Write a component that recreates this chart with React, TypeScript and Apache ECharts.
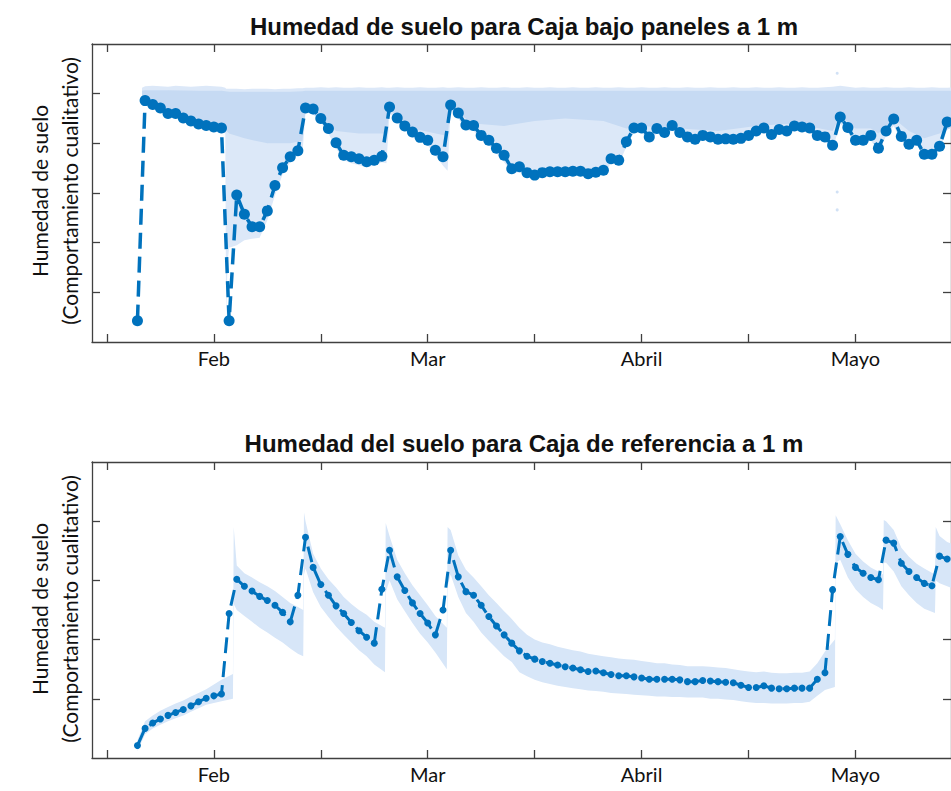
import React, { useEffect, useRef } from "react";
import * as echarts from "echarts";

// ---------- DATA ----------
// daily index (day 0 = first tick, day 14 = "Feb", 42 = "Mar", 70 = "Abril", 98 = "Mayo")
const days = [
  4, 5, 6, 7, 8, 9, 10, 11, 12, 13, 14, 15, 16, 17, 18, 19, 20, 21, 22, 23, 24, 25, 26, 27, 28, 29,
  30, 31, 32, 33, 34, 35, 36, 37, 38, 39, 40, 41, 42, 43, 44, 45, 46, 47, 48, 49, 50, 51, 52, 53, 54,
  55, 56, 57, 58, 59, 60, 61, 62, 63, 64, 65, 66, 67, 68, 69, 70, 71, 72, 73, 74, 75, 76, 77, 78, 79,
  80, 81, 82, 83, 84, 85, 86, 87, 88, 89, 90, 91, 92, 93, 94, 95, 96, 97, 98, 99, 100, 101, 102, 103,
  104, 105, 106, 107, 108, 109, 110,
];

// daily values, "Caja bajo paneles"
const panelValues = [
  0.43, 4.86, 4.78, 4.71, 4.6, 4.6, 4.51, 4.45, 4.39, 4.36, 4.33, 4.31, 0.43, 2.96, 2.57, 2.32, 2.32,
  2.64, 3.15, 3.51, 3.73, 3.85, 4.71, 4.69, 4.5, 4.3, 4.01, 3.76, 3.73, 3.69, 3.63, 3.66, 3.74, 4.73,
  4.51, 4.35, 4.23, 4.12, 4.06, 3.86, 3.73, 4.77, 4.61, 4.37, 4.36, 4.16, 4.06, 3.9, 3.76, 3.49, 3.53,
  3.41, 3.36, 3.41, 3.43, 3.43, 3.43, 3.44, 3.44, 3.39, 3.42, 3.46, 3.69, 3.66, 4.03, 4.31, 4.31, 4.13,
  4.3, 4.22, 4.36, 4.22, 4.13, 4.08, 4.16, 4.13, 4.08, 4.09, 4.08, 4.1, 4.16, 4.25, 4.31, 4.18, 4.28,
  4.25, 4.35, 4.33, 4.31, 4.16, 4.13, 3.96, 4.53, 4.32, 4.06, 4.06, 4.16, 3.9, 4.25, 4.49, 4.14, 3.98,
  4.06, 3.78, 3.78, 3.94, 4.43,
];

// daily values, "Caja de referencia"
const referenceValues = [
  0.21, 0.5, 0.59, 0.66, 0.72, 0.77, 0.82, 0.88, 0.95, 1.01, 1.05, 1.08, 2.44, 3.02, 2.9, 2.82, 2.73,
  2.66, 2.58, 2.46, 2.3, 2.75, 3.73, 3.22, 2.93, 2.75, 2.57, 2.44, 2.29, 2.15, 2.04, 1.94, 2.85, 3.51,
  3.06, 2.83, 2.62, 2.44, 2.28, 2.08, 2.5, 3.51, 3.06, 2.81, 2.75, 2.58, 2.39, 2.23, 2.08, 1.94, 1.81,
  1.72, 1.67, 1.63, 1.6, 1.57, 1.54, 1.52, 1.49, 1.46, 1.47, 1.44, 1.41, 1.39, 1.39, 1.37, 1.35, 1.33,
  1.33, 1.33, 1.33, 1.32, 1.29, 1.29, 1.31, 1.3, 1.29, 1.28, 1.27, 1.23, 1.19, 1.19, 1.22, 1.18, 1.17,
  1.17, 1.18, 1.18, 1.18, 1.33, 1.44, 2.84, 3.74, 3.44, 3.22, 3.12, 3.05, 3.01, 3.68, 3.63, 3.29, 3.15,
  3.05, 2.95, 2.91, 3.41, 3.36,
];

// envelope of the raw (high-frequency) readings, "Caja bajo paneles"
const panelBandDays = [
  4.6, 5, 6, 7, 8, 9, 10, 11, 12, 13, 14, 15, 15.5, 15.6, 15.8, 16, 17, 18, 19, 20, 21, 22, 23, 24, 25,
  25.6, 26, 27, 28, 29, 30, 31, 32, 33, 34, 35, 36, 36.6, 37, 38, 39, 40, 41, 42, 43, 44, 44.6, 45, 46,
  47, 48, 49, 50, 51, 52, 53, 54, 55, 56, 57, 58, 59, 60, 61, 62, 63, 64, 65, 66, 67, 68, 69, 70, 71,
  72, 73, 74, 75, 76, 77, 78, 79, 80, 81, 82, 83, 84, 85, 86, 87, 88, 89, 90, 91, 92, 93, 94, 95, 96,
  97, 98, 99, 100, 101, 102, 103, 104, 105, 106, 107, 108, 109, 110, 111,
];
const panelBandLow = [
  4.85, 4.78, 4.72, 4.65, 4.55, 4.53, 4.45, 4.39, 4.33, 4.3, 4.27, 4.25, 4.2, 0.45, 1.6, 1.9, 1.95,
  2.05, 2.08, 2.1, 2.45, 2.95, 3.38, 3.62, 3.76,
  3.8, 4.62, 4.6, 4.42, 4.2, 3.9, 3.66, 3.6, 3.56, 3.52, 3.55, 3.62, 3.6, 4.62, 4.42, 4.26, 4.14,
  4.03, 3.96, 3.76, 3.55, 3.45, 4.66, 4.5,
  4.27, 4.25, 4.06, 3.96, 3.8, 3.62, 3.4, 3.42, 3.34, 3.3, 3.34, 3.36, 3.36, 3.36, 3.37, 3.37, 3.33,
  3.35, 3.38, 3.6, 3.58, 3.93, 4.22, 4.22, 4.05,
  4.2, 4.13, 4.27, 4.13, 4.05, 4.0, 4.07, 4.05, 4.0, 4.01, 4.0, 4.02, 4.08, 4.17, 4.22, 4.1, 4.2,
  4.17, 4.26, 4.25, 4.22, 4.08, 4.04, 3.88, 4.4,
  4.22, 3.98, 3.98, 4.06, 3.82, 4.15, 4.35, 4.05, 3.9, 3.97, 3.7, 3.7, 3.85, 4.3, 4.3,
];
const panelBandHigh = [
  5.12, 5.15, 5.16, 5.15, 5.14, 5.16, 5.15, 5.14, 5.15, 5.16, 5.15, 5.14, 5.12, 5.1, 5.1, 5.1, 5.1,
  5.09, 5.1, 5.1, 5.1, 5.09, 5.1, 5.1, 5.11,
  5.11, 5.12, 5.12, 5.13, 5.12, 5.13, 5.12, 5.12, 5.13, 5.12, 5.12, 5.13, 5.12, 5.12, 5.13, 5.12,
  5.12, 5.13, 5.12, 5.12, 5.13, 5.12, 5.12, 5.13,
  5.12, 5.12, 5.13, 5.12, 5.12, 5.13, 5.12, 5.12, 5.13, 5.12, 5.12, 5.13, 5.12, 5.12, 5.13, 5.12,
  5.12, 5.13, 5.12, 5.12, 5.13, 5.12, 5.12, 5.13, 5.12,
  5.12, 5.13, 5.12, 5.12, 5.13, 5.12, 5.12, 5.13, 5.12, 5.12, 5.13, 5.12, 5.12, 5.13, 5.12, 5.12,
  5.13, 5.12, 5.12, 5.13, 5.12, 5.12, 5.13, 5.14, 5.16,
  5.14, 5.12, 5.13, 5.12, 5.12, 5.13, 5.12, 5.12, 5.13, 5.12, 5.12, 5.13, 5.12, 5.12, 5.13,
];
// dense core of the raw readings, "Caja bajo paneles"
const panelCoreDays = [
  4.6, 5, 8, 12, 15, 15.5, 16, 18, 21, 24, 25.6, 26, 28, 30, 33, 36.6, 37, 40, 44.6, 45, 48, 52, 56,
  60, 65, 67, 68, 70, 75, 80, 85, 90, 95, 96, 98, 100, 101, 103, 105, 107, 109, 111,
];
const panelCoreLow = [
  4.88, 4.8, 4.6, 4.38, 4.3, 4.28, 4.2, 4.1, 4.0, 4.0, 4.05, 4.65, 4.5, 4.25, 4.2, 4.2, 4.68, 4.3,
  4.15, 4.7, 4.4, 4.35, 4.45, 4.5, 4.45, 4.35, 4.3, 4.35, 4.3, 4.25, 4.35, 4.4, 4.25, 4.55, 4.3, 4.3,
  4.2, 4.5, 4.25, 4.1, 4.2, 4.35,
];
const panelCoreHigh = [
  5.06, 5.07, 5.07, 5.06, 5.06, 5.05, 5.04, 5.04, 5.04, 5.04, 5.05, 5.06, 5.06, 5.06, 5.06, 5.06,
  5.06, 5.06, 5.06, 5.06, 5.06, 5.06, 5.06, 5.06, 5.06, 5.06, 5.06, 5.06, 5.06, 5.06, 5.06, 5.06,
  5.06, 5.06, 5.06, 5.06, 5.06, 5.06, 5.06, 5.06, 5.06, 5.06,
];
const panelOutliers: [number, number][] = [
  [95.6, 3.02],
  [95.6, 2.66],
  [95.6, 5.41],
];

// envelope of the raw readings, "Caja de referencia"
const refBandDays = [
  4, 5, 6, 7, 8, 9, 10, 11, 12, 13, 14, 15, 16.5, 16.6, 17, 18, 19, 20, 21, 22, 23, 24, 25, 25.7, 25.8,
  26, 27, 28, 29, 30, 31, 32, 33, 34, 35, 36.4, 36.5, 37, 38, 39, 40, 41, 42, 43, 44.5, 44.6, 45, 46,
  47, 48, 49, 50, 51, 52, 53, 54, 55, 56, 57, 58, 59, 60, 61, 62, 63, 64, 65, 66, 67, 68, 69, 70, 71,
  72, 73, 74, 75, 76, 77, 78, 79, 80, 81, 82, 83, 84, 85, 86, 87, 88, 89, 90, 91, 92, 93, 94, 95.3,
  95.4, 96, 97, 98, 99, 100, 101, 101.6, 101.7, 102, 103, 104, 105, 106, 107, 108.4, 108.5, 109, 110,
  111,
];
const refBandLow = [
  0.12, 0.4, 0.5, 0.56, 0.62, 0.67, 0.72, 0.78, 0.84, 0.9, 0.93, 0.96, 1.0, 2.6, 2.5, 2.4, 2.3, 2.2,
  2.12, 2.03, 1.95, 1.85, 1.76, 1.72, 3.1, 3.2, 2.8, 2.55, 2.38, 2.22, 2.08, 1.95, 1.82, 1.72, 1.58,
  1.45, 2.8, 3.0, 2.68, 2.48, 2.28, 2.1, 1.95, 1.78, 1.5, 2.9, 3.1, 2.72, 2.45, 2.3, 2.12, 1.98, 1.85,
  1.72, 1.62, 1.45, 1.38, 1.32, 1.28, 1.25, 1.22, 1.2, 1.18, 1.16, 1.14, 1.13, 1.12, 1.1, 1.09, 1.08,
  1.07, 1.06, 1.05, 1.04, 1.04, 1.03, 1.03, 1.02, 1.02, 1.02, 1.0, 1.0, 0.99, 0.98, 0.96, 0.94, 0.93,
  0.93, 0.92, 0.92, 0.92, 0.93, 0.93, 0.95, 1.05, 1.15, 1.2, 3.3, 3.35, 3.05, 2.85, 2.72, 2.62, 2.55,
  2.5, 3.3, 3.3, 3.15, 2.9, 2.75, 2.62, 2.52, 2.45, 3.0, 2.95, 2.9, 2.85,
];
const refBandHigh = [
  0.3, 0.62, 0.72, 0.8, 0.86, 0.92, 0.97, 1.04, 1.1, 1.16, 1.24, 1.32, 1.42, 3.9, 3.25, 3.12, 3.05,
  2.97, 2.9, 2.82, 2.72, 2.62, 2.55, 2.5, 4.15, 4.0, 3.45, 3.2, 3.02, 2.88, 2.72, 2.6, 2.5, 2.42, 2.3,
  2.2, 3.97, 3.75, 3.35, 3.12, 2.92, 2.75, 2.58, 2.4, 2.2, 3.9, 3.85, 3.42, 3.18, 3.05, 2.9, 2.75,
  2.62, 2.48, 2.35, 2.2, 2.08, 2.0, 1.95, 1.92, 1.88, 1.85, 1.82, 1.8, 1.76, 1.74, 1.72, 1.7, 1.68,
  1.67, 1.66, 1.64, 1.62, 1.6, 1.6, 1.58, 1.57, 1.55, 1.55, 1.55, 1.54, 1.53, 1.52, 1.5, 1.48, 1.46,
  1.45, 1.46, 1.44, 1.43, 1.43, 1.44, 1.44, 1.46, 1.6, 1.8, 2.0, 4.1, 3.95, 3.68, 3.45, 3.32, 3.22,
  3.15, 3.1, 4.02, 4.0, 3.85, 3.55, 3.4, 3.28, 3.2, 3.1, 3.9, 3.75, 3.65, 3.6,
];

// axis ticks and labels
const tickDays = [0, 14, 28, 42, 56, 70, 84, 98, 112];
const monthDays = [14, 42, 70, 98];
const monthNames = ["Feb", "Mar", "Abril", "Mayo"];
const panelYTicks = [1, 2, 3, 4, 5];
const refYTicks = [1, 2, 3, 4];

const titles = [
  "Humedad de suelo para Caja bajo paneles a 1 m",
  "Humedad del suelo para Caja de referencia a 1 m",
];
const yNameLines = ["Humedad de suelo", "(Comportamiento cualitativo)"];

// ---------- STYLE ----------
const BLUE = "#0072BD";
const CLOUD_DENSE = "#C6DAF3";
const CLOUD_LIGHT = "#DCE8F8";
const REF_BAND = "#D7E6F8";
const AXIS = "#404040";
const LABEL_FONT = "Lato, 'Open Sans', sans-serif";
const TITLE_FONT = "'Liberation Sans', Arial, sans-serif";

const X_MIN = -1.95;
const X_MAX = 110.5;

function band(
  xi: number,
  bd: number[],
  lo: number[],
  hi: number[],
  color: string,
  z: number
) {
  const n = Math.min(bd.length, lo.length, hi.length);
  const data = bd.slice(0, n).map((d, i) => [d, lo[i], hi[i]]);
  return {
    type: "custom",
    xAxisIndex: xi,
    yAxisIndex: xi,
    data,
    silent: true,
    z,
    encode: { x: 0, y: [1, 2] },
    renderItem: (params: any, api: any) => {
      if (params.dataIndex !== 0) return null;
      const upper = data.map((p) => api.coord([p[0], p[2]]));
      const lower = data.map((p) => api.coord([p[0], p[1]])).reverse();
      const pts = upper.concat(lower).filter((p: number[]) => isFinite(p[0]) && isFinite(p[1]));
      return {
        type: "polygon",
        shape: { points: pts },
        style: { fill: color, stroke: null },
      };
    },
  };
}

function xAxes(gridIndex: number) {
  const common = {
    type: "value",
    gridIndex,
    min: X_MIN,
    max: X_MAX,
    splitLine: { show: false },
    axisLine: { show: true, onZero: false, lineStyle: { color: AXIS, width: 1.3 } },
    axisTick: {
      show: true,
      inside: true,
      length: 8,
      customValues: tickDays,
      lineStyle: { color: AXIS, width: 1.3 },
    },
  };
  return [
    {
      ...common,
      position: "bottom",
      axisLabel: {
        show: true,
        customValues: monthDays,
        formatter: (v: number) => monthNames[monthDays.indexOf(v)] ?? "",
        fontFamily: LABEL_FONT,
        fontSize: 20,
        color: "#111",
        margin: 6,
      },
    },
    { ...common, position: "top", axisLabel: { show: false } },
  ];
}

function yAxes(gridIndex: number, max: number, ticks: number[]) {
  const common = {
    type: "value",
    gridIndex,
    min: 0,
    max,
    splitLine: { show: false },
    axisLabel: { show: false },
    axisLine: { show: true, onZero: false, lineStyle: { color: AXIS, width: 1.3 } },
    axisTick: {
      show: true,
      inside: true,
      length: 8,
      customValues: ticks,
      lineStyle: { color: AXIS, width: 1.3 },
    },
  };
  return [
    { ...common, position: "left" },
    { ...common, position: "right" },
  ];
}

function yName(centerY: number) {
  return [
    { x: 39, text: yNameLines[0] },
    { x: 69, text: yNameLines[1] },
  ].map((l) => ({
    type: "text",
    x: l.x,
    y: centerY,
    rotation: Math.PI / 2,
    style: {
      text: l.text,
      fontFamily: LABEL_FONT,
      fontSize: 21,
      fill: "#111",
      align: "center",
      verticalAlign: "middle",
    },
  }));
}

function title(text: string, y: number) {
  return {
    type: "text",
    x: 524,
    y,
    style: {
      text,
      fontFamily: TITLE_FONT,
      fontWeight: "bold",
      fontSize: 24,
      fill: "#111",
      align: "center",
      verticalAlign: "middle",
    },
  };
}

export default function App() {
  const ref = useRef<HTMLDivElement>(null);

  useEffect(() => {
    if (!ref.current) return;
    const chart = echarts.init(ref.current, null, { renderer: "svg" });

    const lineSeries = (idx: number, values: number[], size: number, width: number) => ({
      type: "line",
      xAxisIndex: idx * 2,
      yAxisIndex: idx * 2,
      data: days.map((d, i) => [d, values[i]]),
      symbol: "circle",
      symbolSize: size,
      showSymbol: true,
      z: 5,
      silent: true,
      lineStyle: { color: BLUE, width, type: [16, 8] },
      itemStyle: { color: BLUE },
    });

    chart.setOption({
      animation: false,
      backgroundColor: "#fff",
      grid: [
        { left: 92, top: 44, width: 863, height: 298 },
        { left: 92, top: 462, width: 863, height: 296 },
      ],
      xAxis: [...xAxes(0), ...xAxes(1)],
      yAxis: [...yAxes(0, 6, panelYTicks), ...yAxes(1, 5, refYTicks)],
      graphic: [title(titles[0], 26), title(titles[1], 443), ...yName(191), ...yName(609)],
      series: [
        band(0, panelBandDays, panelBandLow, panelBandHigh, CLOUD_LIGHT, 1),
        band(0, panelCoreDays, panelCoreLow, panelCoreHigh, CLOUD_DENSE, 2),
        {
          type: "scatter",
          xAxisIndex: 0,
          yAxisIndex: 0,
          data: panelOutliers,
          symbolSize: 3,
          silent: true,
          z: 2,
          itemStyle: { color: CLOUD_DENSE },
        },
        lineSeries(0, panelValues, 11, 3.5),
        band(2, refBandDays, refBandLow, refBandHigh, REF_BAND, 1),
        lineSeries(1, referenceValues, 7, 3),
      ],
    });

    return () => chart.dispose();
  }, []);

  return (
    <div
      style={{
        position: "fixed",
        left: 0,
        top: 0,
        width: 951,
        height: 791,
        overflow: "hidden",
        background: "#fff",
      }}
    >
      <div ref={ref} style={{ width: 951, height: 791 }} />
    </div>
  );
}
